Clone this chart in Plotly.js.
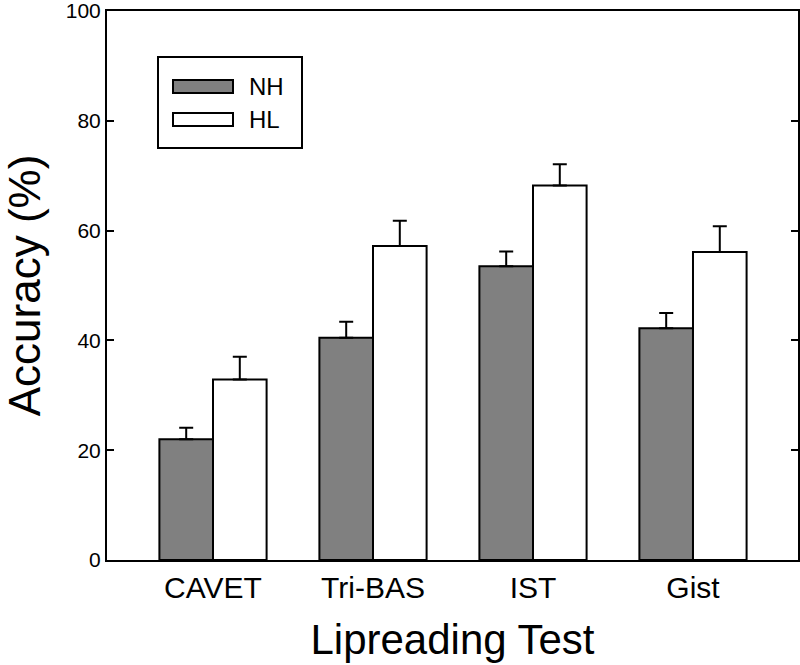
<!DOCTYPE html>
<html>
<head>
<meta charset="utf-8">
<script src="https://cdn.plot.ly/plotly-3.0.1.min.js"></script>
<style>html,body{margin:0;padding:0;background:#fff;}#chart{width:800px;height:665px;}</style>
</head>
<body>
<div id="chart"></div>
<script>
const categories = ["CAVET", "Tri-BAS", "IST", "Gist"];
const seriesNames = ["NH", "HL"];
const nhValues = [22.0, 40.5, 53.5, 42.2];
const nhErrors = [2.1, 2.9, 2.7, 2.8];
const hlValues = [32.9, 57.2, 68.2, 56.1];
const hlErrors = [4.1, 4.6, 3.9, 4.7];
const yTicks = [0, 20, 40, 60, 80, 100];

const font = "Liberation Sans, Arial, sans-serif";
const idx = categories.map((c, i) => i);

function barTrace(name, vals, errs, color) {
  return {
    type: "bar", name: name, x: idx, y: vals,
    marker: {color: color, line: {color: "#000", width: 2}},
    error_y: {type: "data", symmetric: false, array: errs, arrayminus: errs.map(() => 0),
              color: "#000", thickness: 2, width: 7},
    showlegend: false
  };
}

const data = [
  barTrace(seriesNames[0], nhValues, nhErrors, "#808080"),
  barTrace(seriesNames[1], hlValues, hlErrors, "#ffffff")
];

const W = 800, H = 665, L = 107, R = 2, T = 11, B = 105;
const pw = W - L - R, ph = H - T - B;
function px(x) { return (x - L) / pw; }
function py(y) { return 1 - (y - T) / ph; }

const legendColors = ["#808080", "#ffffff"];
const shapes = [
  {type: "rect", xref: "paper", yref: "paper", x0: px(158), x1: px(302), y0: py(148), y1: py(57),
   line: {color: "#000", width: 2}, fillcolor: "#fff"}
];
const annotations = [];
seriesNames.forEach((n, i) => {
  const cy = 86.5 + i * 33;
  shapes.push({type: "rect", xref: "paper", yref: "paper", x0: px(173), x1: px(233), y0: py(cy + 6.5), y1: py(cy - 6.5),
    line: {color: "#000", width: 2}, fillcolor: legendColors[i]});
  annotations.push({xref: "paper", yref: "paper", x: px(247), y: py(cy), xanchor: "left", yanchor: "middle",
    text: n, showarrow: false, font: {family: font, size: 24, color: "#000"}});
});

const layout = {
  width: W, height: H,
  margin: {l: L, r: R, t: T, b: B},
  paper_bgcolor: "#fff", plot_bgcolor: "#fff",
  bargap: 0.33, bargroupgap: 0, barmode: "group",
  font: {family: font, color: "#000"},
  xaxis: {
    range: [-0.6625, 3.6563], tickmode: "array", tickvals: idx, ticktext: categories,
    showgrid: false, zeroline: false, showline: true, linecolor: "#000", linewidth: 2, mirror: true,
    ticks: "", tickfont: {family: font, size: 30, color: "#000"},
    title: {text: "Lipreading Test", font: {family: font, size: 42, color: "#000"}, standoff: 22},
    automargin: false, fixedrange: true
  },
  yaxis: {
    range: [0, 100], tickmode: "array", tickvals: yTicks, ticktext: yTicks.map(String),
    showgrid: false, zeroline: false, showline: true, linecolor: "#000", linewidth: 2, mirror: "ticks",
    ticks: "inside", ticklen: 7, tickwidth: 2, tickcolor: "#000", ticklabeloverflow: "allow",
    tickfont: {family: font, size: 21, color: "#000"},
    title: {text: "Accuracy (%)", font: {family: font, size: 44, color: "#000"}, standoff: 24},
    automargin: false, fixedrange: true
  },
  shapes: shapes, annotations: annotations
};

Plotly.newPlot("chart", data, layout, {displayModeBar: false, staticPlot: true});
</script>
</body>
</html>
